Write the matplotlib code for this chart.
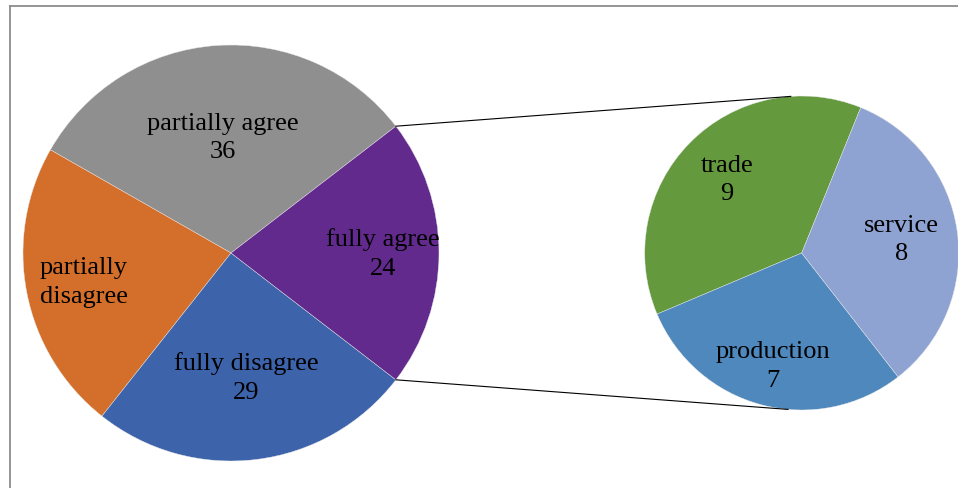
import numpy as np
import matplotlib
matplotlib.use("Agg")
import matplotlib.pyplot as plt

# ---- data ----
main_labels = ["partially agree", "partially\ndisagree", "fully disagree", "fully agree"]
main_values = [36, 26, 29, 24]
main_show_value = [True, False, True, True]
main_colors = ["#8f8f8f", "#d36f2b", "#3d63ab", "#632a8e"]

sub_labels = ["trade", "production", "service"]
sub_values = [9, 7, 8]
sub_colors = ["#64993d", "#4f88bd", "#8fa3d3"]

W, H = 958, 489
fig = plt.figure(figsize=(W / 100, H / 100), dpi=100)
ax = fig.add_axes([0, 0, 1, 1])
ax.set_xlim(0, W)
ax.set_ylim(0, H)
ax.axis("off")

FONT = "Liberation Serif"
FS = 19
LS = 1.38

# main pie
mc = (231, H - 254)
mr = 208
total = sum(main_values)
fa_span = main_values[-1] / total * 360
start_main = fa_span / 2  # fully agree centered on the right
wedges, _ = ax.pie(main_values, colors=main_colors, startangle=start_main,
                   center=mc, radius=mr, counterclock=True,
                   wedgeprops=dict(linewidth=0.3, edgecolor="#e8e8e8"),
                   frame=True)
main_rf = [0.56, 0.72, 0.60, 0.73]
for w, lab, v, show, rf in zip(wedges, main_labels, main_values, main_show_value, main_rf):
    mid = np.deg2rad((w.theta1 + w.theta2) / 2)
    x = mc[0] + rf * mr * np.cos(mid)
    y = mc[1] + rf * mr * np.sin(mid)
    txt = f"{lab}\n{v}" if show else lab
    ax.text(x, y, txt, ha="center", va="center", fontsize=FS, family=FONT,
            linespacing=LS, color="black")

# secondary pie
sc = (801.7, H - 254)
sr = 157
wedges2, _ = ax.pie(sub_values, colors=sub_colors, startangle=67.9,
                    center=sc, radius=sr, counterclock=True,
                    wedgeprops=dict(linewidth=0.3, edgecolor="#e8e8e8"),
                    frame=True)
sub_rf = [0.67, 0.74, 0.64]
for w, lab, v, rf in zip(wedges2, sub_labels, sub_values, sub_rf):
    mid = np.deg2rad((w.theta1 + w.theta2) / 2)
    x = sc[0] + rf * sr * np.cos(mid)
    y = sc[1] + rf * sr * np.sin(mid)
    ax.text(x, y, f"{lab}\n{v}", ha="center", va="center", fontsize=FS,
            family=FONT, linespacing=LS, color="black")

ax.set_xlim(0, W)
ax.set_ylim(0, H)
ax.set_aspect("equal")
ax.axis("off")

# connector lines
fa = wedges[-1]
t1 = np.deg2rad(fa.theta2)
t2 = np.deg2rad(fa.theta1)
p_top = (mc[0] + mr * np.cos(t1), mc[1] + mr * np.sin(t1))
p_bot = (mc[0] + mr * np.cos(t2), mc[1] + mr * np.sin(t2))
q_top = (sc[0] + sr * np.cos(np.deg2rad(94)), sc[1] + sr * np.sin(np.deg2rad(94)))
q_bot = (sc[0] + sr * np.cos(np.deg2rad(265)), sc[1] + sr * np.sin(np.deg2rad(265)))
ax.plot([p_top[0], q_top[0]], [p_top[1], q_top[1]], color="black", lw=0.8)
ax.plot([p_bot[0], q_bot[0]], [p_bot[1], q_bot[1]], color="black", lw=0.8)

# chart frame (left and top only visible)
ax.plot([9.5, 9.5], [0, H - 6.5], color="#8c8c8c", lw=1.3, clip_on=False)
ax.plot([9.5, W], [H - 6.5, H - 6.5], color="#8c8c8c", lw=1.3, clip_on=False)

fig.savefig("out.png", dpi=100)
